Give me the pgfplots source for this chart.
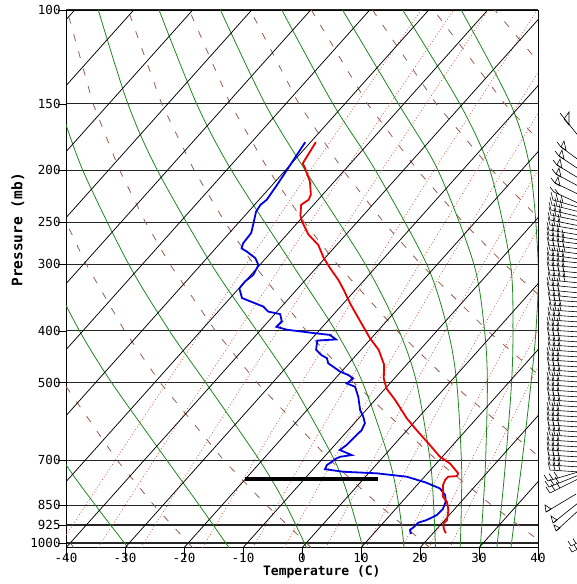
\documentclass[border=0pt]{standalone}
\usepackage{fontspec}
\setmainfont{DejaVu Sans Mono}
\usepackage{pgfplots}
\usepackage{pgfplotstable}
\pgfplotsset{compat=1.18}
\usetikzlibrary{calc}

\definecolor{moistgreen}{RGB}{30,135,30}
\definecolor{drybrown}{RGB}{150,92,75}
\definecolor{mixred}{RGB}{205,90,70}
\definecolor{tempred}{RGB}{235,0,0}
\definecolor{dewblue}{RGB}{0,0,225}

% skew-T: position on the axis = T + 35.074*ln(1020.5/p)
\pgfplotsset{/pgfplots/table/skewT/.style={x expr={\thisrow{T}+35.074*ln(1020.5/\thisrow{p})}, y=p}}

% temperature sounding (C, mb)
\pgfplotstableread{
T p
22.2 959
21.1 939
20.3 919
20.4 906
19.1 867
17.6 837
16.2 819
14.4 778
14.0 762
14.0 751
15.4 749
15.2 740
12.3 709
9.6 689
5.6 650
1.6 614
-1.9 583
-6.6 539
-9.8 513
-11.8 491
-13.8 463
-17.0 434
-20.2 413
-24.7 382
-28.9 355
-32.0 335
-34.4 321
-37.6 305
-40.2 292
-43.1 276
-46.3 264
-49.3 250
-50.6 243
-52.1 232
-51.6 227
-52.0 222
-54.1 210
-57.0 198
-58.1 194
-59.1 177
}\temp

% dewpoint sounding (C, mb)
\pgfplotstableread{
T p
16.4 962
15.6 945
15.8 935
15.9 916
16.9 906
17.9 886
18.0 863
17.4 837
16.3 813
14.4 790
11.1 770
7.0 751
1.4 740
-4.5 735
-8.0 727
-8.3 714
-8.0 704
-7.7 694
-7.3 689
-5.6 684
-8.4 669
-8.0 655
-7.9 638
-7.7 614
-8.2 596
-9.5 579
-11.0 563
-13.3 532
-15.4 509
-17.3 502
-17.0 491
-18.3 484
-20.2 477
-23.5 460
-24.5 450
-25.9 444
-27.6 434
-28.8 417
-27.3 416
-25.8 415
-27.5 407
-31.2 403
-35.6 398
-37.8 393
-37.7 384
-39.1 372
-41.5 368
-43.1 360
-45.0 355
-48.0 347
-49.9 333
-50.0 323
-49.6 314
-50.2 301
-51.8 292
-54.2 284
-55.6 280
-56.1 274
-56.3 262
-57.2 253
-58.7 239
-59.0 232
-58.7 227
-59.2 213
-60.0 195
-60.9 177
}\dew

% wind barbs, in pixel units of the strip right of the diagram
\pgfplotstableread{
x y u v n fu fv
564 118 16 20 1 -4 -5
561 147 19 14 1 -4 -5
559 156 21 14 1 -4 -5
557 165 23 14 1 -4 -5
556 174 24 13 1 -4 -5
555 183 25 12 1 -4 -5
554 192 26 12 2 -4 -5
553 200 28 8 3 -2 -8
552 205 28 7 3 -2 -8
551 210 29 7 3 -2 -8
551 215 29 6 3 -2 -8
550 220 30 6 3 -2 -8
550 225 30 5 3 -2 -8
549 230 31 5 3 -2 -8
549 235 31 5 4 -2 -8
549 240 31 4 4 -2 -8
549 245 31 4 4 -2 -8
550 250 30 4 4 -2 -8
549 255 31 4 4 -2 -8
549 260 31 3 4 -2 -8
549 265 31 3 4 -2 -8
549 270 31 3 4 -2 -8
550 275 30 3 4 -2 -8
550 280 30 3 4 -2 -8
549 285 31 3 3 -2 -8
549 290 31 3 3 -2 -8
550 295 30 3 3 -2 -8
550 300 30 2 3 -2 -8
551 305 29 2 3 -2 -8
551 310 29 2 3 -2 -8
550 315 30 2 3 -2 -8
550 320 30 2 3 -2 -8
549 325 31 2 3 -2 -8
549 330 31 2 3 -2 -8
549 335 31 2 3 -2 -8
550 340 30 2 3 -2 -8
550 345 30 2 3 -2 -8
550 350 30 2 3 -2 -8
549 355 31 2 3 -2 -8
549 360 31 2 3 -2 -8
549 365 31 2 3 -2 -8
550 370 30 2 3 -2 -8
550 375 30 2 3 -2 -8
549 380 31 2 3 -2 -8
549 385 31 2 3 -2 -8
549 390 31 2 3 -2 -8
549 395 31 2 3 -2 -8
550 400 30 2 3 -2 -8
550 405 30 2 3 -2 -8
549 410 31 2 3 -2 -8
549 415 31 2 3 -2 -8
549 420 31 2 3 -2 -8
549 425 31 2 3 -2 -8
550 430 30 2 3 -2 -8
550 435 30 2 3 -2 -8
549 440 31 2 3 -2 -8
549 445 31 2 3 -2 -8
549 450 31 2 3 -2 -8
549 455 31 2 3 -2 -8
550 460 30 2 3 -2 -8
550 465 30 2 3 -2 -8
550 470 30 2 3 -2 -8
548 481 30 -9 3 -4 -6
549 487 30 -12 3 -4 -6
550 493 30 -15 3 -4 -6
546 512 30 -18 0 -4 -6
553 523 25 -20 0 -4 -6
556 531 24 -22 0 -4 -6
571 546 8 -4 2 -3 -5
572 552 8 -4 2 -3 -5
}\barbs

\begin{document}
\begin{tikzpicture}
\begin{axis}[
  name=main,
  width=472pt, height=537.7pt, scale only axis,
  xmin=-40, xmax=40, ymin=100, ymax=1020.5,
  ymode=log, y dir=reverse,
  xtick={-40,-30,...,40},
  xticklabels={-40,-30,-20,-10,0,10,20,30,40},
  ytick={100,150,200,250,300,400,500,700,850,925,1000},
  yticklabels={100,150,200,250,300,400,500,700,850,925,1000},
  yminorticks=false,
  ymajorgrids, grid style={black!85, line width=1.1pt},
  tick pos=left, tick align=outside,
  xtick style={black, line width=0.7pt, /pgfplots/major tick length=12pt},
  ytick style={black, line width=0.7pt, /pgfplots/major tick length=8pt},
  axis line style={line width=0.9pt},
  tick label style={font=\fontsize{12.5}{14}\selectfont},
  xticklabel style={inner sep=1pt},
  yticklabel style={inner sep=1pt},
  xlabel={Temperature (C)}, ylabel={Pressure (mb)},
  every axis x label/.style={at={(rel axis cs:0.542,0)}, anchor=center, yshift=-24.3pt,
    font=\bfseries\fontsize{13}{15}\selectfont},
  every axis y label/.style={at={($(rel axis cs:0,0.591)+(-48.3pt,0pt)$)}, anchor=center, rotate=90,
    font=\bfseries\fontsize{14.5}{16}\selectfont},
  unbounded coords=jump,
]

% mixing ratio lines (g/kg): 0.1 0.2 0.4 1 2 3 5 8 12 16 20
\addplot[mixred, line width=0.7pt, dash pattern=on 0.9pt off 2.1pt] table[skewT] {
T p
-41.39 1020
-44.90 700
-47.94 500
-52.38 300
-55.76 200
-61.27 100
nan nan
-34.58 1020
-38.34 700
-41.58 500
-46.30 300
-49.90 200
-55.76 100
nan nan
-27.31 1020
-31.33 700
-34.79 500
-39.84 300
-43.67 200
-49.90 100
nan nan
-16.89 1020
-21.30 700
-25.09 500
-30.61 300
-34.80 200
-41.59 100
nan nan
-8.33 1020
-13.07 700
-17.15 500
-23.07 300
-27.56 200
-34.82 100
nan nan
-3.02 1020
-7.97 700
-12.23 500
-18.41 300
-23.09 200
-30.65 100
nan nan
4.00 1020
-1.24 700
-5.75 500
-12.27 300
-17.21 200
-25.16 100
nan nan
10.81 1020
5.27 700
0.53 500
-6.34 300
-11.53 200
-19.88 100
nan nan
16.95 1020
11.15 700
6.18 500
-1.01 300
-6.43 200
-15.15 100
nan nan
21.47 1020
15.46 700
10.32 500
2.90 300
-2.70 200
-11.69 100
nan nan
25.05 1020
18.89 700
13.61 500
6.00 300
0.27 200
-8.95 100
};

% dry adiabats, theta = -40 ... 160 C
\addplot[drybrown, line width=0.8pt, dash pattern=on 7pt off 11pt] table[skewT] {
T p
-38.68 1020
-50.58 850
nan nan
-18.57 1020
-31.49 850
-44.53 700
-65.48 500
-78.30 400
nan nan
1.55 1020
-12.39 850
-26.46 700
-49.07 500
-62.91 400
-79.51 300
-89.33 250
-100.69 200
nan nan
21.66 1020
6.70 850
-8.40 700
-32.66 500
-47.52 400
-65.33 300
-75.87 250
-88.06 200
-102.66 150
-121.31 100
nan nan
41.77 1020
25.79 850
9.66 700
-16.26 500
-32.12 400
-51.15 300
-62.41 250
-75.43 200
-91.03 150
-110.95 100
nan nan
61.89 1020
44.89 850
27.72 700
0.15 500
-16.73 400
-36.97 300
-48.96 250
-62.80 200
-79.40 150
-100.59 100
nan nan
82.00 1020
63.98 850
45.78 700
16.55 500
-1.34 400
-22.79 300
-35.50 250
-50.18 200
-67.77 150
-90.24 100
nan nan
83.07 850
63.85 700
32.96 500
14.06 400
-8.61 300
-22.04 250
-37.55 200
-56.14 150
-79.88 100
nan nan
81.91 700
49.37 500
29.45 400
5.57 300
-8.58 250
-24.92 200
-44.50 150
-69.52 100
nan nan
65.77 500
44.84 400
19.75 300
4.88 250
-12.29 200
-32.88 150
-59.16 100
nan nan
82.18 500
60.23 400
33.92 300
18.34 250
0.34 200
-21.24 150
-48.80 100
};

% moist adiabats, theta-e = 243 ... 423 K
\pgfplotsset{moist/.style={moistgreen, line width=0.8pt, smooth}}
\addplot[moist] table[skewT] {
T p
-29.5 1020
-41.4 850
-53.7 700
-73.6 500
};
\addplot[moist] table[skewT] {
T p
-12.4 1020
-23.8 850
-36.1 700
-57.3 500
-70.55 400
-86.5 300
};
\addplot[moist] table[skewT] {
T p
0.75 1020
-9.1 850
-20.4 700
-41.35 500
-55.3 400
-72.3 300
-94.3 200
-108.4 150
};
\addplot[moist] table[skewT] {
T p
10.3 1020
1.9 850
-7.7 700
-26.8 500
-40.5 400
-58.3 300
-81.65 200
-96.75 150
-116.0 100
};
\addplot[moist] table[skewT] {
T p
17.3 1020
10.0 850
1.6 700
-14.75 500
-27.15 400
-44.6 300
-69.1 200
-85.1 150
-105.7 100
};
\addplot[moist] table[skewT] {
T p
22.6 1020
15.9 850
8.5 700
-5.6 500
-16.4 400
-32.2 300
-56.6 200
-73.5 150
-95.3 100
};
\addplot[moist] table[skewT] {
T p
26.8 1020
20.6 850
13.8 700
1.2 500
-8.1 400
-21.8 300
-44.7 200
-62.0 150
-84.9 100
};
\addplot[moist] table[skewT] {
T p
30.2 1020
24.3 850
17.9 700
6.4 500
-1.9 400
-13.8 300
-34.1 200
-50.9 150
-74.6 100
};
\addplot[moist] table[skewT] {
T p
33.0 1020
27.4 850
21.3 700
10.5 500
2.9 400
-7.6 300
-25.3 200
-40.5 150
-64.4 100
};
\addplot[moist] table[skewT] {
T p
35.4 1020
29.9 850
24.1 700
13.8 500
6.8 400
-2.9 300
-18.45 200
-31.9 150
-54.5 100
};

% isotherms every 10 C
\addplot[black, line width=0.75pt] table[skewT] {
T p
-120 1020.5
-120 100
nan nan
-110 1020.5
-110 100
nan nan
-100 1020.5
-100 100
nan nan
-90 1020.5
-90 100
nan nan
-80 1020.5
-80 100
nan nan
-70 1020.5
-70 100
nan nan
-60 1020.5
-60 100
nan nan
-50 1020.5
-50 100
nan nan
-40 1020.5
-40 100
nan nan
-30 1020.5
-30 100
nan nan
-20 1020.5
-20 100
nan nan
-10 1020.5
-10 100
nan nan
0 1020.5
0 100
nan nan
10 1020.5
10 100
nan nan
20 1020.5
20 100
nan nan
30 1020.5
30 100
nan nan
40 1020.5
40 100
};

% soundings
\addplot[dewblue, line width=1.8pt] table[skewT] {\dew};
\addplot[tempred, line width=1.8pt] table[skewT] {\temp};

% thick bar at about 760 mb
\addplot[black, line width=4.2pt] coordinates {(-9.66,759.5) (12.93,759.5)};
\end{axis}

% wind barbs
\begin{axis}[
  at={(main.south east)}, anchor=south west,
  width=38pt, height=537.7pt, scale only axis,
  xmin=538, xmax=576, ymin=10, ymax=547.7, y dir=reverse,
  hide axis, clip=false, unbounded coords=jump,
]
\addplot[black, line width=0.6pt, quiver={u=\thisrow{u}, v=\thisrow{v}}] table[x=x, y=y] {\barbs};
\addplot[black, line width=0.6pt, quiver={u=\thisrow{fu}, v=\thisrow{fv}}, unbounded coords=discard]
  table[x expr={\thisrow{n}>0 ? \thisrow{x} : nan}, y=y] {\barbs};
\addplot[black, line width=0.6pt, quiver={u=\thisrow{fu}, v=\thisrow{fv}}, unbounded coords=discard]
  table[x expr={\thisrow{n}>1 ? \thisrow{x}+5 : nan}, y expr={\thisrow{y}+5*\thisrow{v}/\thisrow{u}}] {\barbs};
\addplot[black, line width=0.6pt, quiver={u=\thisrow{fu}, v=\thisrow{fv}}, unbounded coords=discard]
  table[x expr={\thisrow{n}>2 ? \thisrow{x}+10 : nan}, y expr={\thisrow{y}+10*\thisrow{v}/\thisrow{u}}] {\barbs};
\addplot[black, line width=0.6pt, quiver={u=\thisrow{fu}, v=\thisrow{fv}}, unbounded coords=discard]
  table[x expr={\thisrow{n}>3 ? \thisrow{x}+15 : nan}, y expr={\thisrow{y}+15*\thisrow{v}/\thisrow{u}}] {\barbs};
% pennants
\addplot[black, line width=0.6pt] coordinates {
(564,119) (569,112) (569,125) (564,119) (nan,nan)
(561,147) (564,141) (566,150) (561,147) (nan,nan)
(559,156) (562,150) (564,159) (559,156) (nan,nan)
(557,165) (560,159) (562,168) (557,165) (nan,nan)
(556,174) (559,168) (561,177) (556,174) (nan,nan)
(555,183) (558,177) (560,186) (555,183) (nan,nan)
(546,512) (545,505) (551,509) (546,512) (nan,nan)
(553,523) (551,516) (557,520) (553,523) (nan,nan)
(556,531) (554,525) (560,528) (556,531)
};
\end{axis}

\pgfresetboundingbox
\path ($(main.south west)+(-66pt,-36.3pt)$) rectangle ($(main.north east)+(38pt,10pt)$);
\end{tikzpicture}
\end{document}
